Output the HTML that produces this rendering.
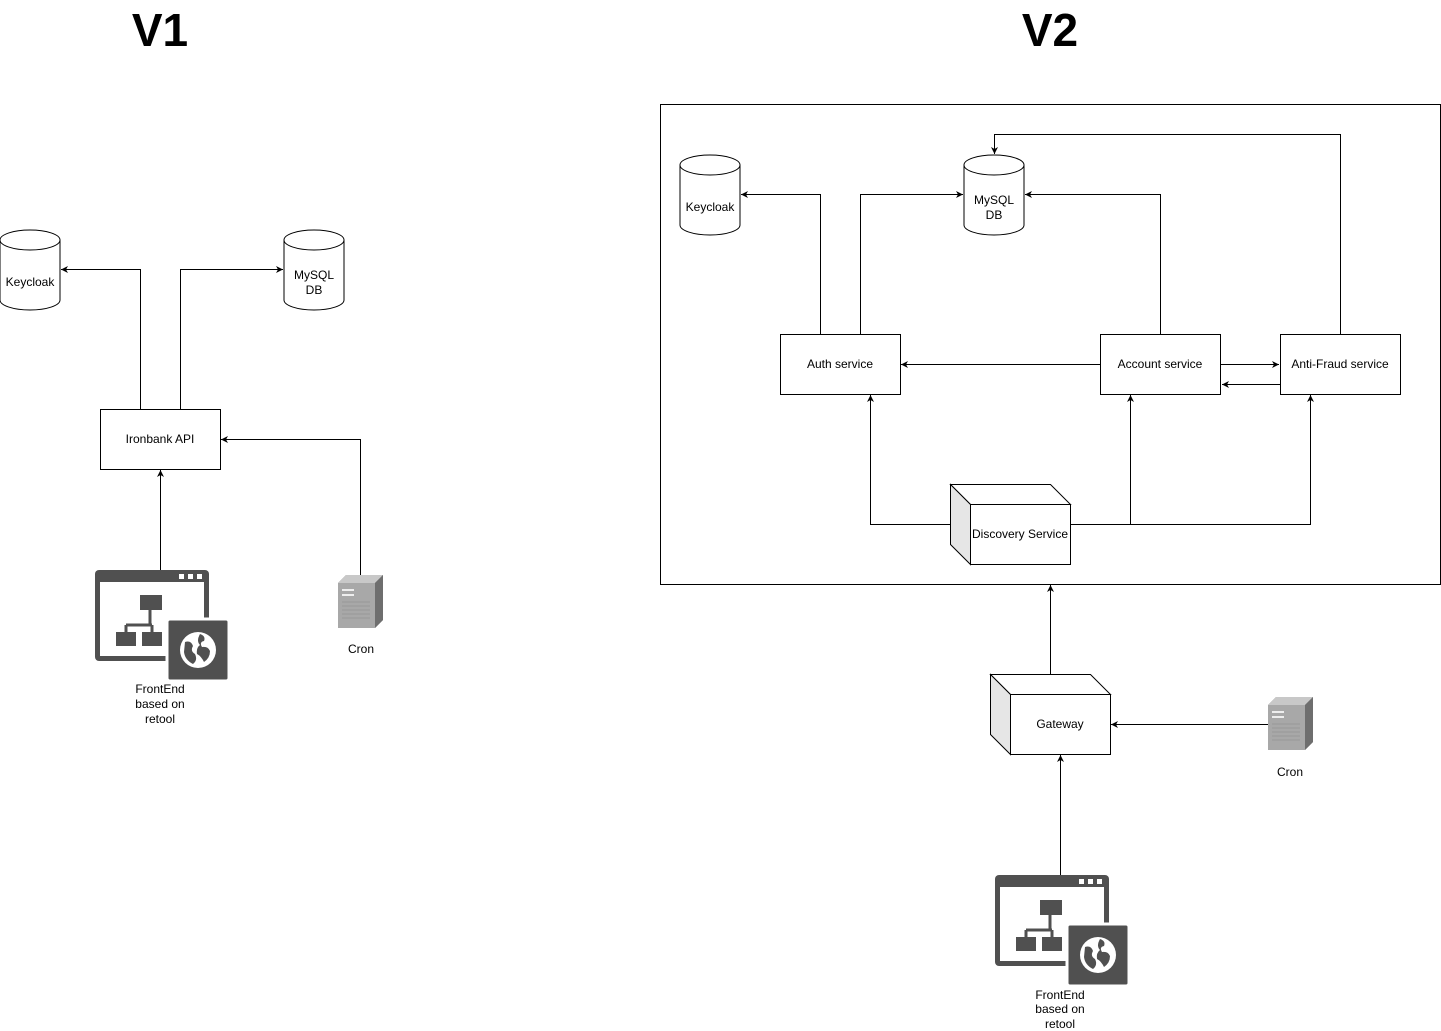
<!DOCTYPE html>
<html><head><style>body{margin:0;background:#fff}svg{display:block}text{font-family:"Liberation Sans",Arial,sans-serif}</style></head>
<body>
<svg width="1441" height="1031" viewBox="0 0 1441 1031" xmlns="http://www.w3.org/2000/svg">
<defs>
<marker id="a" markerWidth="8" markerHeight="8" refX="7" refY="4" orient="auto" markerUnits="userSpaceOnUse"><path d="M0,0.5 L7,4 L0,7.5 L2,4 Z" fill="#000"/></marker>
<g id="cyl"><path d="M0,10 A30,10 0 0 1 60,10 L60,70 A30,10 0 0 1 0,70 Z" fill="#fff" stroke="#000"/><path d="M0,10 A30,10 0 0 0 60,10" fill="none" stroke="#000"/></g>
<g id="fe">
<rect x="0" y="0" width="114" height="91" rx="4" fill="#505050"/>
<rect x="5" y="12" width="104" height="74" fill="#fff"/>
<rect x="84" y="4" width="5" height="5" fill="#fff"/><rect x="93" y="4" width="5" height="5" fill="#fff"/><rect x="102" y="4" width="5" height="5" fill="#fff"/>
<rect x="45" y="25" width="22" height="15" fill="#505050"/>
<path d="M55,40 V55 M31,55 H57 M31,55 V62 M57,55 V62" stroke="#505050" stroke-width="3" fill="none"/>
<rect x="21" y="62" width="20" height="14" fill="#505050"/><rect x="47" y="62" width="20" height="14" fill="#505050"/>
<rect x="72" y="49" width="62" height="62" rx="3" fill="#505050" stroke="#fff" stroke-width="3"/>
<circle cx="103" cy="80" r="18" fill="#fff"/>
<path d="M90,72 q6,-2 8,4 q-3,5 2,8 q3,6 -2,10 q-8,-4 -9,-12 Z M105,64 q6,2 4,7 q-5,1 -2,6 q6,-1 8,4 q0,7 -6,11 q-3,-6 -7,-8 q-1,-6 3,-9 q-4,-4 0,-11 Z" fill="#505050"/>
</g>
<g id="cron">
<path d="M8,0 L45,0 L45,45 L37,53 L0,53 L0,8 Z" fill="#8a8a8a"/>
<path d="M0,8 L8,0 L45,0 L37,8 Z" fill="#c8c8c8"/>
<path d="M37,8 L45,0 L45,45 L37,53 Z" fill="#6e6e6e"/>
<rect x="0" y="8" width="37" height="45" fill="#a8a8a8"/>
<rect x="4" y="14" width="12" height="2" fill="#eee"/><rect x="4" y="19" width="12" height="2" fill="#eee"/>
<path d="M4,27h28M4,31h28M4,35h28M4,39h28M4,43h28" stroke="#999" stroke-width="1"/>
</g>
<g id="cube">
<path d="M0,0 L100,0 L120,20 L20,20 Z" fill="#fff" stroke="#000"/>
<path d="M0,0 L20,20 L20,80 L0,60 Z" fill="#e6e6e6" stroke="#000"/>
<rect x="20" y="20" width="100" height="60" fill="#fff" stroke="#000"/>
</g>
</defs>
<g font-size="12" text-anchor="middle" fill="#000" stroke-width="1">
<text x="160" y="46" font-size="46" font-weight="bold">V1</text>
<text x="1050" y="46" font-size="46" font-weight="bold">V2</text>

<!-- V1 -->
<use href="#cyl" x="0" y="230"/><text x="30" y="286">Keycloak</text>
<use href="#cyl" x="284" y="230"/><text x="314" y="279">MySQL</text><text x="314" y="294">DB</text>
<rect x="100.5" y="409.5" width="120" height="60" fill="#fff" stroke="#000"/><text x="160" y="443">Ironbank API</text>
<g fill="none" stroke="#000" marker-end="url(#a)">
<path d="M140.5,409 V269.5 H61"/>
<path d="M180.5,409 V269.5 H283"/>
<path d="M160.5,570 V470"/>
<path d="M360.5,575 V439.5 H221"/>
</g>
<use href="#fe" x="95" y="570"/>
<text x="160" y="693">FrontEnd</text><text x="160" y="708">based on</text><text x="160" y="723">retool</text>
<use href="#cron" x="338" y="575"/><text x="361" y="653">Cron</text>

<!-- V2 -->
<rect x="660.5" y="104.5" width="780" height="480" fill="none" stroke="#000"/>
<use href="#cyl" x="680" y="155"/><text x="710" y="211">Keycloak</text>
<use href="#cyl" x="964" y="155"/><text x="994" y="204">MySQL</text><text x="994" y="219">DB</text>
<rect x="780.5" y="334.5" width="120" height="60" fill="#fff" stroke="#000"/><text x="840" y="368">Auth service</text>
<rect x="1100.5" y="334.5" width="120" height="60" fill="#fff" stroke="#000"/><text x="1160" y="368">Account service</text>
<rect x="1280.5" y="334.5" width="120" height="60" fill="#fff" stroke="#000"/><text x="1340" y="368">Anti-Fraud service</text>
<g fill="none" stroke="#000" marker-end="url(#a)">
<path d="M820.5,334 V194.5 H741"/>
<path d="M860.5,334 V194.5 H963"/>
<path d="M1160.5,334 V194.5 H1025"/>
<path d="M1340.5,334 V134.5 H994.5 V154"/>
<path d="M1100,364.5 H901"/>
<path d="M1221,364.5 H1279"/>
<path d="M1280,384.5 H1222"/>
<path d="M950,524.5 H870.5 V395"/>
<path d="M1070,524.5 H1310.5 V395"/>
<path d="M1130.5,524.5 V395"/>
<path d="M1050.5,674 V585"/>
<path d="M1268,724.5 H1111"/>
<path d="M1060.5,875 V755"/>
</g>
<use href="#cube" x="950.5" y="484.5"/><text x="1020" y="538">Discovery Service</text>
<use href="#cube" x="990.5" y="674.5"/><text x="1060" y="728">Gateway</text>
<use href="#fe" x="995" y="875"/>
<text x="1060" y="999">FrontEnd</text><text x="1060" y="1013">based on</text><text x="1060" y="1028">retool</text>
<use href="#cron" x="1268" y="697"/><text x="1290" y="776">Cron</text>
</g>
</svg>
</body></html>
